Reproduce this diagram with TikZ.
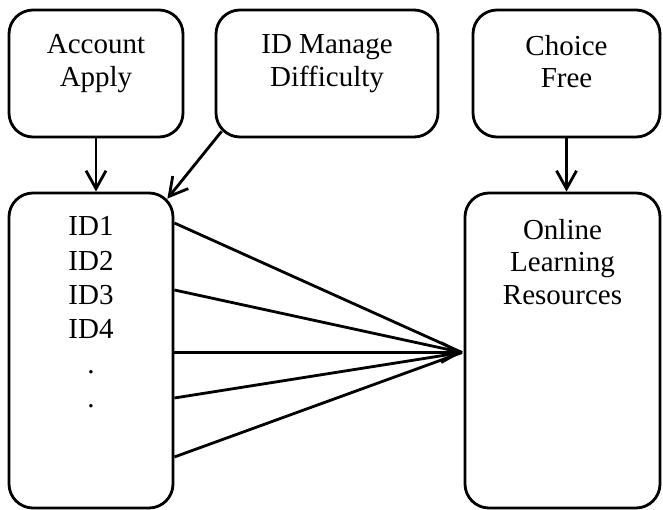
\documentclass[tikz,border=0pt]{standalone}
\usepackage{fontspec}
\setmainfont{Liberation Serif}
\usetikzlibrary{arrows.meta,calc}

\begin{document}
\begin{tikzpicture}[
    box/.style={draw, line width=1.6pt, rounded corners=0.48cm, inner sep=0pt},
    txt/.style={anchor=north, align=center, inner sep=0pt, font=\fontsize{16.5}{18.7}\selectfont},
    arr/.style={line width=1.6pt, -{Straight Barb[length=3.6mm,width=4mm,line width=1.6pt]}}
]
    \useasboundingbox (0,0) rectangle (13.26,10.2);
    % top row of boxes
    \node[box, minimum width=3.48cm, minimum height=2.54cm] (acc) at (1.92,8.73) {};
    \node[box, minimum width=4.44cm, minimum height=2.54cm] (idm) at (6.54,8.73) {};
    \node[box, minimum width=3.74cm, minimum height=2.54cm] (choice) at (11.33,8.73) {};
    % bottom row
    \node[box, minimum width=3.28cm, minimum height=6.30cm] (ids) at (1.82,3.19) {};
    \node[box, minimum width=3.90cm, minimum height=6.30cm] (olr) at (11.25,3.19) {};

    \node[txt] (acctxt) at ($(acc.north)+(0,-0.51)$) {Account\\Apply};
    \node[txt] (idmtxt) at ($(idm.north)+(0,-0.51)$) {ID Manage\\Difficulty};
    \node[txt] (choicetxt) at ($(choice.north)+(0,-0.52)$) {Choice\\Free};
    \node[txt, font=\fontsize{16.5}{19.6}\selectfont] (idstxt) at ($(ids.north)+(0,-0.49)$) {ID1\\ID2\\ID3\\ID4\\.\\.};
    \node[txt] (olrtxt) at ($(olr.north)+(0,-0.54)$) {Online\\Learning\\Resources};

    \draw[arr] (acc.south) -- (acc.south |- ids.north);
    \draw[arr] (choice.south) -- (choice.south |- olr.north);
    \draw[arr] ($(idm.south west)+(0.14,0.14)$) -- ($(ids.north east)+(-0.14,-0.14)$);

    % fan into the resources box
    \coordinate (tip) at (9.24,3.15);
    \foreach \y in {5.74,4.40,2.24,1.06}
        \draw[line width=1.6pt] (ids.east |- 0,\y) -- (tip);
    \draw[arr] (ids.east |- tip) -- (tip);
\end{tikzpicture}
\end{document}
